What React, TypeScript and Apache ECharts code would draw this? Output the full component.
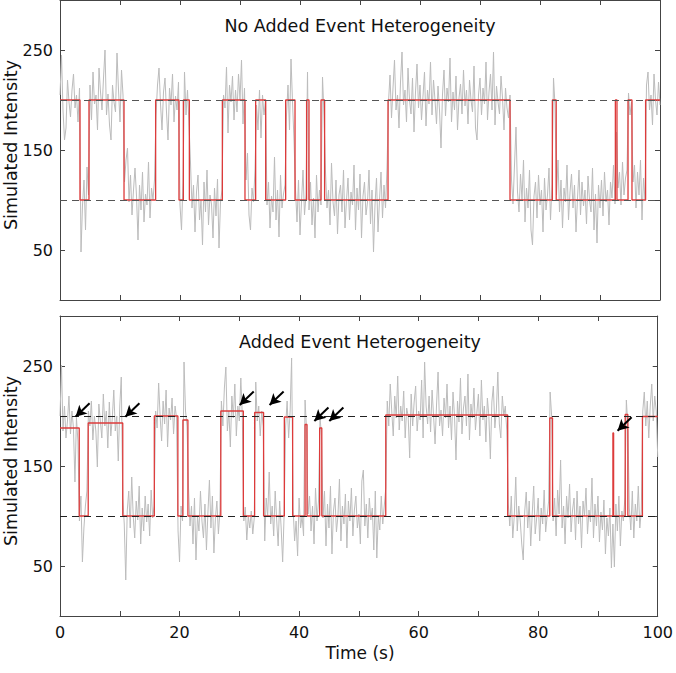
import React, { useEffect, useRef } from "react";
import * as echarts from "echarts";

// time between samples of the simulated traces (s)
const sampleStep = 0.25;

// gray trace, upper panel (no added heterogeneity), one value every 0.25 s
const topTrace = [
  205, 245, 190, 160, 172, 220, 198, 183, 210, 226, 192, 205, 178, 212,
  48, 95, 120, 70, 133, 105,
  215, 180, 228, 196, 205, 170, 232, 208, 190, 222, 250, 185, 206, 175, 160, 215, 198, 188, 247, 210, 178, 230, 205,
  118, 140, 152, 98, 125, 85, 110, 132, 104, 60, 115, 90, 128, 78, 106, 95, 138, 82, 112, 100, 120,
  185, 215, 232, 196, 170, 208, 222, 188, 160, 212, 195, 226, 178, 204, 190, 218,
  95, 70, 118,
  228, 185, 210, 175,
  137, 92, 115, 68, 108, 125, 80, 100, 55, 118, 88, 130, 75, 105, 96, 62, 112, 84, 121, 52, 98, 110,
  205, 192, 233, 167, 215, 198, 224, 180, 210, 188, 226, 200, 240, 176, 212,
  120, 147, 85, 70, 112, 98, 130,
  195, 170, 210, 162, 205, 185, 200,
  95, 118, 72, 104, 88, 143, 80, 110, 63, 125, 92, 106, 115,
  185, 215, 170, 241, 198, 160,
  110, 78, 120, 65, 98, 130, 85, 105,
  228, 90,
  118, 75, 102, 62, 125, 88, 110, 95,
  223, 185,
  128, 92, 110, 75, 137, 98, 84, 120, 66, 105,
  115, 88, 130, 72, 100, 122, 80, 108, 95, 135,
  70, 112, 90, 126, 62, 104, 118, 85, 98, 130,
  76, 110, 48, 95, 122, 68, 100, 128, 82, 115, 92, 132,
  198, 225, 182, 212, 240, 190, 205, 172, 218, 248,
  195, 210, 178, 232, 200, 186, 222, 168, 208, 236,
  192, 215, 180, 204, 228, 174, 210, 196, 238, 185,
  220, 200, 176, 214, 190, 152, 206, 230, 184, 212,
  198, 242, 178, 208, 190, 224, 170, 202, 216, 186,
  230, 194, 210, 176, 220, 200, 188, 234, 172, 160,
  205, 222, 185, 212, 196, 238, 180, 208, 226, 190,
  248, 175, 214, 198, 186, 224, 202, 170, 212, 192, 182, 205,
  120, 96, 135, 173, 108, 88, 126, 100, 140, 78,
  112, 92, 130, 70, 55, 104, 118, 82, 125, 95,
  110, 68, 122, 90, 105, 132, 80, 115,
  222, 195,
  105, 140, 88, 120, 72, 112, 98, 135, 80, 108,
  126, 92, 115, 68, 102, 130, 85, 118, 94, 110,
  76, 124, 100, 88, 132, 70, 106, 57, 115, 92,
  120, 84, 128, 98, 110, 75, 118, 102, 135, 96,
  168,
  112, 128, 95, 138, 105, 122, 130,
  207, 185, 198,
  118, 135, 92, 128, 105, 140, 80, 122, 100,
  215, 228, 190, 205, 175, 226, 200, 185, 218, 195,
];

// gray trace, lower panel (added heterogeneity), one value every 0.25 s
const bottomTrace = [
  200, 251, 185, 210, 178, 195, 220, 182, 205, 188, 134, 198, 175,
  95, 120, 54, 88, 110, 125,
  205, 190, 215, 176, 200, 185, 149, 212, 195, 178,
  222, 190, 205, 168, 214, 180, 198, 226, 185, 200,
  155, 210, 239,
  118, 92, 36, 105, 125, 88, 139, 100, 78, 115,
  96, 130, 72, 108, 85, 120, 94, 112, 80, 126,
  98, 110,
  205, 188, 233, 200, 175, 215, 192, 226, 169, 208, 196, 218, 182, 210, 198,
  85, 54, 110, 95,
  254, 205, 190,
  129, 90, 110, 72, 118, 56, 100, 85, 125, 95,
  78, 112, 66, 104, 136, 88, 120, 63, 98, 115,
  82, 105,
  215, 190, 228, 249, 185, 205, 169, 220, 198, 232, 180, 210, 195, 238, 200,
  95, 109, 76, 100, 88, 105, 82, 98,
  234, 195, 210, 180, 205, 190,
  75, 118, 100, 144, 92, 110, 80, 125, 96, 70, 115, 88, 54, 102,
  190, 215, 178, 205, 258,
  108, 75, 95, 60, 118, 88, 100, 80,
  216, 185,
  102, 120, 85, 110, 72, 128, 95, 115,
  199, 180,
  98, 125, 70, 112, 88, 130, 62, 105, 118, 84,
  100, 137, 75, 110, 92, 122, 68, 115, 95, 128,
  80, 106, 120, 88, 102, 72, 135, 146, 90, 112,
  78, 118, 96, 108, 66, 125, 58, 100, 86, 120,
  92, 110, 128,
  215, 190, 232, 205, 180, 220, 198, 240, 186, 210,
  195, 225, 178, 208, 200, 158, 222, 190, 214, 230,
  185, 205, 196, 236, 178, 254, 210, 192, 220, 184,
  226, 200, 172, 212, 244, 190, 206, 180, 218, 198,
  232, 188, 210, 176, 224, 200, 156, 215, 194, 238,
  182, 208, 220, 190, 242, 176, 212, 198, 228, 186,
  204, 222, 180, 236, 196, 210, 174, 218, 200, 157,
  214, 230, 188, 205, 244, 192, 178, 220, 200, 210, 185,
  112, 90, 120, 78, 100, 139, 85, 110, 95, 72,
  56, 105, 124, 88, 115, 70, 102, 130, 82, 98,
  118, 75, 108, 92, 126, 84, 100, 115,
  224, 200,
  95, 118, 80, 126, 102, 156, 88, 110, 72, 120,
  98, 132, 84, 106, 118, 76, 125, 92, 110, 68,
  115, 100, 128, 82, 106, 94, 138, 78, 112, 90,
  120, 74, 104, 86, 116, 62, 98, 80, 108, 48,
  92, 49, 112, 85, 120, 70, 105, 95, 118,
  216, 190,
  108, 86, 125, 78, 112, 95, 130, 88, 105,
  205, 224, 190, 215, 178, 210, 232, 195, 220, 205, 159,
];

// fitted (red) idealized states: change times (s) and level held from each time
const topStepTimes = [0, 3.33, 4.83, 10.67, 15.94, 19.83, 20.56, 21.56, 27.06, 30.83, 32.61, 34.28, 37.61, 39.17, 41.1, 41.5, 43.5, 44.1, 54.67, 75.0, 82.06, 82.7, 92.56, 92.83, 94.67, 95.33, 97.6];
const topStepLevels = [200, 100, 200, 100, 200, 100, 200, 100, 200, 100, 200, 100, 200, 100, 200, 100, 200, 100, 200, 100, 200, 100, 200, 100, 200, 100, 200];

const bottomStepTimes = [0, 3.22, 4.72, 10.5, 15.78, 19.72, 20.56, 21.4, 26.9, 30.67, 32.56, 34.06, 37.53, 38.92, 41.0, 41.33, 43.44, 43.8, 54.5, 74.9, 81.94, 82.4, 92.5, 92.62, 94.56, 95.0, 97.44];
const bottomStepLevels = [188, 100, 193, 100, 200, 100, 196, 100, 205, 100, 203.5, 100, 199, 100, 191.5, 100, 188, 100, 201, 100, 198, 100, 183, 100, 201.5, 100, 199.5];

// reference state levels (dashed lines)
const stateLevels = [100, 200];

// arrow tips (time, intensity) marking heterogeneous events, lower panel
const arrowTipTimes = [2.6, 10.94, 30.06, 35.06, 42.56, 45.06, 93.28];
const arrowTipValues = [199.3, 199.3, 211, 211, 195, 195, 185.3];

const titles = ["No Added Event Heterogeneity", "Added Event Heterogeneity"];
const yName = "Simulated Intensity";
const xName = "Time (s)";

const FONT = "DejaVu Sans";
const AXIS_COLOR = "#444";

function traceData(values: number[]) {
  return values.map((v, i) => [i * sampleStep, v]);
}
function stepData(times: number[], levels: number[]) {
  const d = times.map((t, i) => [t, levels[i]]);
  d.push([100, levels[levels.length - 1]]);
  return d;
}

export default function App() {
  const ref = useRef<HTMLDivElement>(null);
  useEffect(() => {
    const chart = echarts.init(ref.current!, null, { renderer: "svg" });

    const grids = [
      { left: 60, top: 0, width: 600, height: 300 },
      { left: 60, top: 316, width: 600, height: 300 },
    ];

    const xAxes: any[] = [];
    const yAxes: any[] = [];
    grids.forEach((_, g) => {
      ["bottom", "top"].forEach((pos) => {
        xAxes.push({
          type: "value",
          gridIndex: g,
          position: pos,
          min: 0,
          max: 100,
          interval: 10,
          axisLine: { show: true, onZero: false, lineStyle: { color: AXIS_COLOR, width: 1 } },
          axisTick: { show: true, inside: true, length: 5, lineStyle: { color: AXIS_COLOR } },
          axisLabel: {
            show: g === 1 && pos === "bottom",
            margin: 8,
            fontFamily: FONT,
            fontSize: 16,
            color: "#111",
            formatter: (v: number) => (v % 20 === 0 ? String(v) : ""),
          },
          splitLine: { show: false },
        });
      });
      ["left", "right"].forEach((pos) => {
        yAxes.push({
          type: "value",
          gridIndex: g,
          position: pos,
          min: 0,
          max: 300,
          interval: 50,
          axisLine: { show: true, onZero: false, lineStyle: { color: AXIS_COLOR, width: 1 } },
          axisTick: { show: true, inside: true, length: 5, lineStyle: { color: AXIS_COLOR } },
          axisLabel: {
            show: pos === "left",
            margin: 7,
            fontFamily: FONT,
            fontSize: 16,
            color: "#111",
            formatter: (v: number) => (v % 100 === 50 ? String(v) : ""),
          },
          splitLine: { show: false },
        });
      });
    });

    const traces = [topTrace, bottomTrace];
    const steps = [
      stepData(topStepTimes, topStepLevels),
      stepData(bottomStepTimes, bottomStepLevels),
    ];
    const dashColors = ["#555", "#222"];

    const series: any[] = [];
    [0, 1].forEach((g) => {
      series.push({
        type: "line",
        xAxisIndex: g * 2,
        yAxisIndex: g * 2,
        data: traceData(traces[g]),
        showSymbol: false,
        symbol: "none",
        lineStyle: { color: "#bcbcbc", width: 1 },
        z: 1,
        silent: true,
      });
      series.push({
        type: "line",
        xAxisIndex: g * 2,
        yAxisIndex: g * 2,
        data: steps[g],
        step: "end",
        showSymbol: false,
        symbol: "none",
        lineStyle: { color: "#dd3b3b", width: 1.3 },
        z: 2,
        silent: true,
      });
      const dashed: any = {
        type: "line",
        xAxisIndex: g * 2,
        yAxisIndex: g * 2,
        data: [],
        z: 3,
        silent: true,
        markLine: {
          silent: true,
          symbol: ["none", "none"],
          label: { show: false },
          lineStyle: { color: dashColors[g], width: 1, type: [7, 5] },
          emphasis: { disabled: true },
          data: stateLevels.map((lv) => ({ yAxis: lv })),
        },
      };
      series.push(dashed);
    });

    series.push({
      type: "line",
      xAxisIndex: 2,
      yAxisIndex: 2,
      data: [],
      z: 4,
      silent: true,
      markLine: {
        silent: true,
        symbol: ["none", "arrow"],
        symbolSize: [9, 11],
        label: { show: false },
        lineStyle: { color: "#000", width: 2, type: "solid" },
        emphasis: { disabled: true },
        data: arrowTipTimes.map((t, i) => [
          { coord: [t + 2.35, arrowTipValues[i] + 13.5] },
          { coord: [t, arrowTipValues[i]] },
        ]),
      },
    });

    const textStyle = (text: string, size: number) => ({
      text,
      font: `${size}px "${FONT}"`,
      fontFamily: FONT,
      fontSize: size,
      fill: "#111",
      align: "center",
      verticalAlign: "middle",
      textAlign: "center",
      textVerticalAlign: "middle",
    });

    chart.setOption({
      animation: false,
      backgroundColor: "#fff",
      grid: grids,
      xAxis: xAxes,
      yAxis: yAxes,
      series,
      graphic: [
        { type: "text", x: 360, y: 26, style: textStyle(titles[0], 17.5), z: 10 },
        { type: "text", x: 360, y: 342, style: textStyle(titles[1], 17.5), z: 10 },
        { type: "text", x: 11, y: 145, rotation: Math.PI / 2, style: textStyle(yName, 17.5), z: 10 },
        { type: "text", x: 11, y: 461, rotation: Math.PI / 2, style: textStyle(yName, 17.5), z: 10 },
        { type: "text", x: 360, y: 653, style: textStyle(xName, 17), z: 10 },
      ],
    });

    return () => chart.dispose();
  }, []);

  return (
    <div
      ref={ref}
      style={{ position: "fixed", left: 0, top: 0, width: 676, height: 673, background: "#fff" }}
    />
  );
}
